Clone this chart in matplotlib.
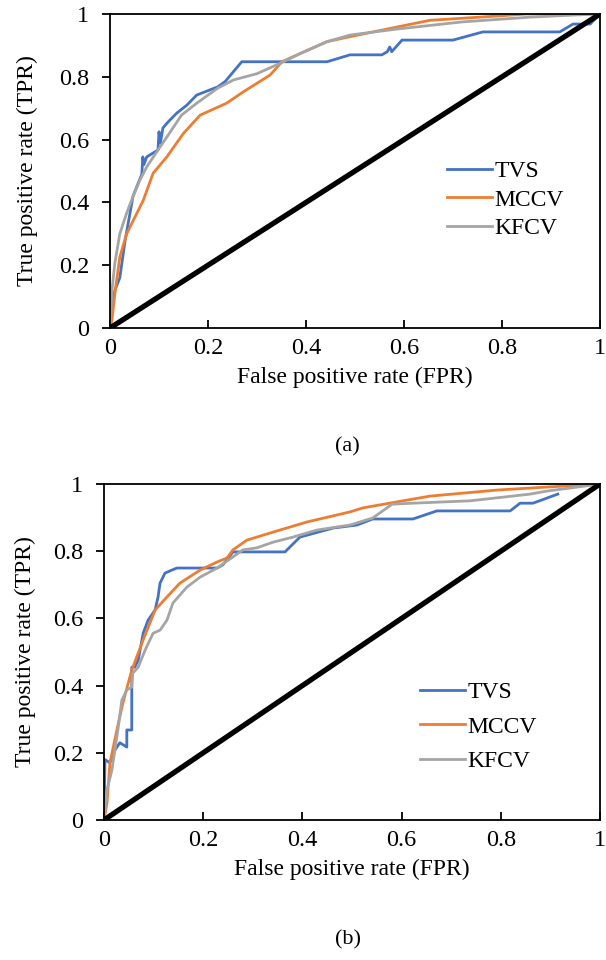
import matplotlib
matplotlib.use("Agg")
import matplotlib.pyplot as plt
from matplotlib.ticker import FuncFormatter

# ---- panel (a) ----
tvs_a_fpr = [0, 0.0, 0.004, 0.01, 0.02, 0.031, 0.047, 0.065, 0.067, 0.069, 0.075, 0.098, 0.1, 0.103,
             0.108, 0.119, 0.136, 0.157, 0.177, 0.22, 0.235, 0.269, 0.443, 0.49, 0.555, 0.566,
             0.571, 0.575, 0.596, 0.70, 0.761, 0.918, 0.945, 0.98, 1.0]
tvs_a_tpr = [0, 0.10, 0.06, 0.12, 0.16, 0.28, 0.42, 0.49, 0.545, 0.52, 0.545, 0.567, 0.625, 0.59,
             0.637, 0.657, 0.684, 0.71, 0.742, 0.768, 0.785, 0.848, 0.848, 0.87, 0.87, 0.88,
             0.895, 0.88, 0.917, 0.917, 0.943, 0.943, 0.968, 0.968, 1.0]

mccv_a_fpr = [0, 0.004, 0.01, 0.02, 0.034, 0.055, 0.068, 0.088, 0.116, 0.15, 0.184, 0.238, 0.272,
              0.327, 0.351, 0.388, 0.443, 0.49, 0.653, 0.755, 0.85, 1.0]
mccv_a_tpr = [0, 0.025, 0.11, 0.226, 0.30, 0.366, 0.407, 0.493, 0.545, 0.62, 0.678, 0.716, 0.752,
              0.806, 0.848, 0.874, 0.912, 0.928, 0.98, 0.99, 1.0, 1.0]

kfcv_a_fpr = [0, 0.004, 0.01, 0.02, 0.034, 0.044, 0.061, 0.075, 0.098, 0.116, 0.146, 0.177, 0.22,
              0.252, 0.30, 0.347, 0.388, 0.443, 0.49, 0.585, 0.72, 0.857, 0.95, 1.0]
kfcv_a_tpr = [0, 0.12, 0.207, 0.30, 0.366, 0.407, 0.471, 0.513, 0.567, 0.608, 0.678, 0.716, 0.764,
              0.79, 0.81, 0.843, 0.874, 0.912, 0.933, 0.952, 0.975, 0.99, 0.997, 1.0]

# ---- panel (b) ----
tvs_b_fpr = [0, 0.002, 0.012, 0.022, 0.032, 0.046, 0.046, 0.056, 0.056, 0.062, 0.069, 0.079, 0.089,
             0.103, 0.109, 0.113, 0.123, 0.137, 0.147, 0.228, 0.24, 0.26, 0.365, 0.395, 0.462,
             0.51, 0.542, 0.623, 0.671, 0.819, 0.839, 0.865, 0.915]
tvs_b_tpr = [0, 0.18, 0.17, 0.208, 0.23, 0.217, 0.268, 0.268, 0.455, 0.455, 0.476, 0.556, 0.595,
             0.625, 0.664, 0.705, 0.735, 0.744, 0.75, 0.75, 0.76, 0.798, 0.798, 0.842, 0.869,
             0.878, 0.896, 0.896, 0.92, 0.92, 0.943, 0.943, 0.97]

mccv_b_fpr = [0, 0.006, 0.012, 0.026, 0.038, 0.056, 0.069, 0.079, 0.103, 0.127, 0.153, 0.194, 0.228,
              0.248, 0.26, 0.288, 0.341, 0.409, 0.496, 0.522, 0.657, 0.792, 0.893, 1.0]
mccv_b_tpr = [0, 0.05, 0.17, 0.268, 0.348, 0.446, 0.497, 0.536, 0.625, 0.664, 0.705, 0.744, 0.768,
              0.78, 0.804, 0.833, 0.857, 0.887, 0.917, 0.929, 0.964, 0.982, 0.991, 1.0]

kfcv_b_fpr = [0, 0.006, 0.016, 0.028, 0.036, 0.046, 0.056, 0.058, 0.069, 0.083, 0.099, 0.113, 0.127,
              0.139, 0.167, 0.194, 0.228, 0.26, 0.28, 0.308, 0.341, 0.381, 0.429, 0.496, 0.542,
              0.581, 0.623, 0.738, 0.859, 0.893, 1.0]
kfcv_b_tpr = [0, 0.09, 0.149, 0.268, 0.357, 0.387, 0.396, 0.437, 0.455, 0.506, 0.556, 0.565, 0.595,
              0.646, 0.693, 0.723, 0.75, 0.783, 0.804, 0.81, 0.827, 0.842, 0.863, 0.878, 0.899,
              0.94, 0.943, 0.95, 0.97, 0.979, 1.0]

chance = [0, 1]
labels = ['TVS', 'MCCV', 'KFCV']
colors = ['#4472C4', '#ED7D31', '#A5A5A5']
ticks = [0, 0.2, 0.4, 0.6, 0.8, 1]

plt.rcParams['font.family'] = ['Liberation Serif', 'DejaVu Serif']
plt.rcParams['font.size'] = 17

fig = plt.figure(figsize=(6.06, 9.6), dpi=100)
ax_a = fig.add_axes([0.1815, 0.6583, 0.8085, 0.3271])
ax_b = fig.add_axes([0.1716, 0.1458, 0.8184, 0.3500])


def draw_panel(ax, curves, legend_anchor, spacing, ylabelpad):
    for (fpr, tpr), lab, col in zip(curves, labels, colors):
        ax.plot(fpr, tpr, color=col, linewidth=2.0, label=lab, solid_joinstyle='round')
    ax.plot(chance, chance, color='black', linewidth=3.8, solid_capstyle='butt')
    ax.set_xlim(0, 1)
    ax.set_ylim(0, 1)
    ax.set_xticks(ticks)
    ax.set_yticks(ticks)
    fmt = FuncFormatter(lambda v, p: f'{v:g}')
    ax.xaxis.set_major_formatter(fmt)
    ax.yaxis.set_major_formatter(fmt)
    ax.tick_params(axis='x', direction='in', length=6, width=1.3, pad=7, labelsize=17.5)
    ax.tick_params(axis='y', direction='out', length=6, width=1.3, pad=9, labelsize=17.5)
    for sp in ax.spines.values():
        sp.set_linewidth(1.3)
    ax.set_xlabel('False positive rate (FPR)', fontsize=17, labelpad=6)
    ax.set_ylabel('True positive rate (TPR)', fontsize=17, labelpad=ylabelpad)
    ax.legend(loc='center left', bbox_to_anchor=legend_anchor, frameon=False,
              fontsize=17, handlelength=1.9, handletextpad=0.1, borderpad=0,
              borderaxespad=0, labelspacing=spacing)


draw_panel(ax_a, [(tvs_a_fpr, tvs_a_tpr), (mccv_a_fpr, mccv_a_tpr), (kfcv_a_fpr, kfcv_a_tpr)],
           (0.688, 0.408), 0.3, 15)
draw_panel(ax_b, [(tvs_b_fpr, tvs_b_tpr), (mccv_b_fpr, mccv_b_tpr), (kfcv_b_fpr, kfcv_b_tpr)],
           (0.637, 0.277), 0.55, 12)

fig.text(347 / 606, 1 - 447 / 960, '(a)', ha='center', va='center', fontsize=16)
fig.text(348 / 606, 1 - 940 / 960, '(b)', ha='center', va='center', fontsize=16)

fig.savefig('out.png', dpi=100)
